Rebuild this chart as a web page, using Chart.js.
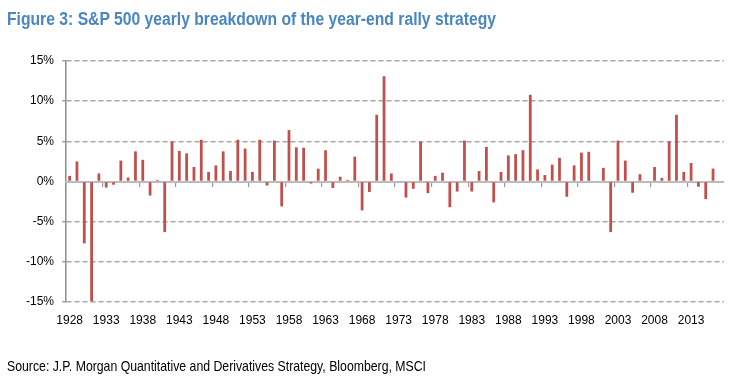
<!DOCTYPE html>
<html>
<head>
<meta charset="utf-8">
<script src="https://cdn.jsdelivr.net/npm/chart.js@4"></script>
<style>
  html, body { margin: 0; padding: 0; background: #fff; }
  #wrap { position: relative; width: 732px; height: 379px; overflow: hidden; }
  #c { position: absolute; left: 0; top: 0; }
  #title { position: absolute; left: 7px; top: 9px; font-family: "Liberation Sans", Arial, sans-serif; font-weight: bold; font-size: 18px; line-height: normal; color: #4a86c3; white-space: nowrap; transform-origin: 0 0; }
  #source { position: absolute; left: 7px; top: 358px; font-family: "Liberation Sans", Arial, sans-serif; font-size: 14.5px; line-height: normal; color: #000; white-space: nowrap; transform-origin: 0 0; }
</style>
</head>
<body>
<div id="wrap">
  <canvas id="c" width="732" height="379"></canvas>
  <div id="title">Figure 3: S&amp;P 500 yearly breakdown of the year-end rally strategy</div>
  <div id="source">Source: J.P. Morgan Quantitative and Derivatives Strategy, Bloomberg, MSCI</div>
</div>
<script>
const years = [
  1928,1929,1930,1931,1932,1933,1934,1935,1936,1937,
  1938,1939,1940,1941,1942,1943,1944,1945,1946,1947,
  1948,1949,1950,1951,1952,1953,1954,1955,1956,1957,
  1958,1959,1960,1961,1962,1963,1964,1965,1966,1967,
  1968,1969,1970,1971,1972,1973,1974,1975,1976,1977,
  1978,1979,1980,1981,1982,1983,1984,1985,1986,1987,
  1988,1989,1990,1991,1992,1993,1994,1995,1996,1997,
  1998,1999,2000,2001,2002,2003,2004,2005,2006,2007,
  2008,2009,2010,2011,2012,2013,2014,2015,2016,2017
];
const rallyReturns = [
  0.7, 2.5, -7.7, -14.9, 1.0, -0.75, -0.4, 2.6, 0.5, 3.75,
  2.7, -1.75, 0.2, -6.3, 5.0, 3.8, 3.5, 1.8, 5.2, 1.2,
  2.0, 3.75, 1.3, 5.2, 4.1, 1.2, 5.2, -0.5, 5.1, -3.1,
  6.4, 4.25, 4.2, -0.25, 1.6, 3.9, -0.8, 0.6, 0.2, 3.1,
  -3.6, -1.3, 8.3, 13.1, 1.0, -0.1, -2.0, -0.9, 4.95, -1.45,
  0.7, 1.1, -3.2, -1.25, 5.1, -1.25, 1.3, 4.3, -2.6, 1.2,
  3.25, 3.4, 3.9, 10.8, 1.5, 0.8, 2.1, 2.95, -1.9, 2.0,
  3.6, 3.7, -0.1, 1.7, -6.3, 5.1, 2.6, -1.4, 0.9, -0.1,
  1.8, 0.45, 5.0, 8.3, 1.2, 2.3, -0.65, -2.2, 1.6, null
];
const yTicks = [-15, -10, -5, 0, 5, 10, 15];
const labelEvery = 5;

// narrow-font emulation for the HTML texts: fit each to the reference width
function fitWidth(id, target) {
  const el = document.getElementById(id);
  const w = el.getBoundingClientRect().width;
  if (w > 0) el.style.transform = 'scaleX(' + (target / w) + ')';
}
fitWidth('title', 489);
fitWidth('source', 419);

const tickFont = { family: '"Liberation Sans", Arial, sans-serif', size: 12 };

new Chart(document.getElementById('c'), {
  type: 'bar',
  data: {
    labels: years.map(String),
    datasets: [{
      data: rallyReturns,
      backgroundColor: '#c0504d',
      borderWidth: 0,
      barPercentage: 0.38,
      categoryPercentage: 1.0,
      xAxisID: 'x',
      yAxisID: 'y'
    }]
  },
  options: {
    responsive: false,
    animation: false,
    events: [],
    layout: { padding: { left: 0, right: 8, top: 61, bottom: 47 } },
    plugins: { legend: { display: false }, tooltip: { enabled: false }, title: { display: false } },
    scales: {
      y: {
        position: 'left',
        min: -15, max: 15,
        afterBuildTicks: s => { s.ticks = yTicks.map(v => ({ value: v })); },
        afterFit: s => { s.width = 66; },
        ticks: {
          callback: v => v + '%',
          color: '#000',
          font: tickFont,
          padding: 8
        },
        grid: {
          color: ctx => (ctx.tick && ctx.tick.value === 0) ? 'rgba(0,0,0,0)' : '#a6a6a6',
          lineWidth: 1.5,
          drawTicks: true,
          tickLength: 4
        },
        border: { display: true, color: '#8c8c8c', width: 1.5, dash: [5, 3] }
      },
      x: {
        type: 'category',
        position: { y: 0 },
        offset: true,
        ticks: { display: false },
        grid: {
          offset: true,
          drawOnChartArea: false,
          drawTicks: true,
          tickLength: 4,
          lineWidth: 1.2,
          color: ctx => (ctx.index % labelEvery === 0) ? '#999999' : 'rgba(0,0,0,0)'
        },
        border: { display: true, color: '#bcbcbc', width: 2 }
      },
      x2: {
        type: 'category',
        position: 'bottom',
        offset: true,
        afterFit: s => { s.height = 30; },
        grid: { display: false, drawTicks: false },
        border: { display: false },
        ticks: {
          autoSkip: false,
          maxRotation: 0,
          minRotation: 0,
          padding: 11,
          color: '#000',
          font: tickFont,
          callback: function (v, i) { return i % labelEvery === 0 ? this.getLabelForValue(v) : ''; }
        }
      }
    }
  }
});
</script>
</body>
</html>
